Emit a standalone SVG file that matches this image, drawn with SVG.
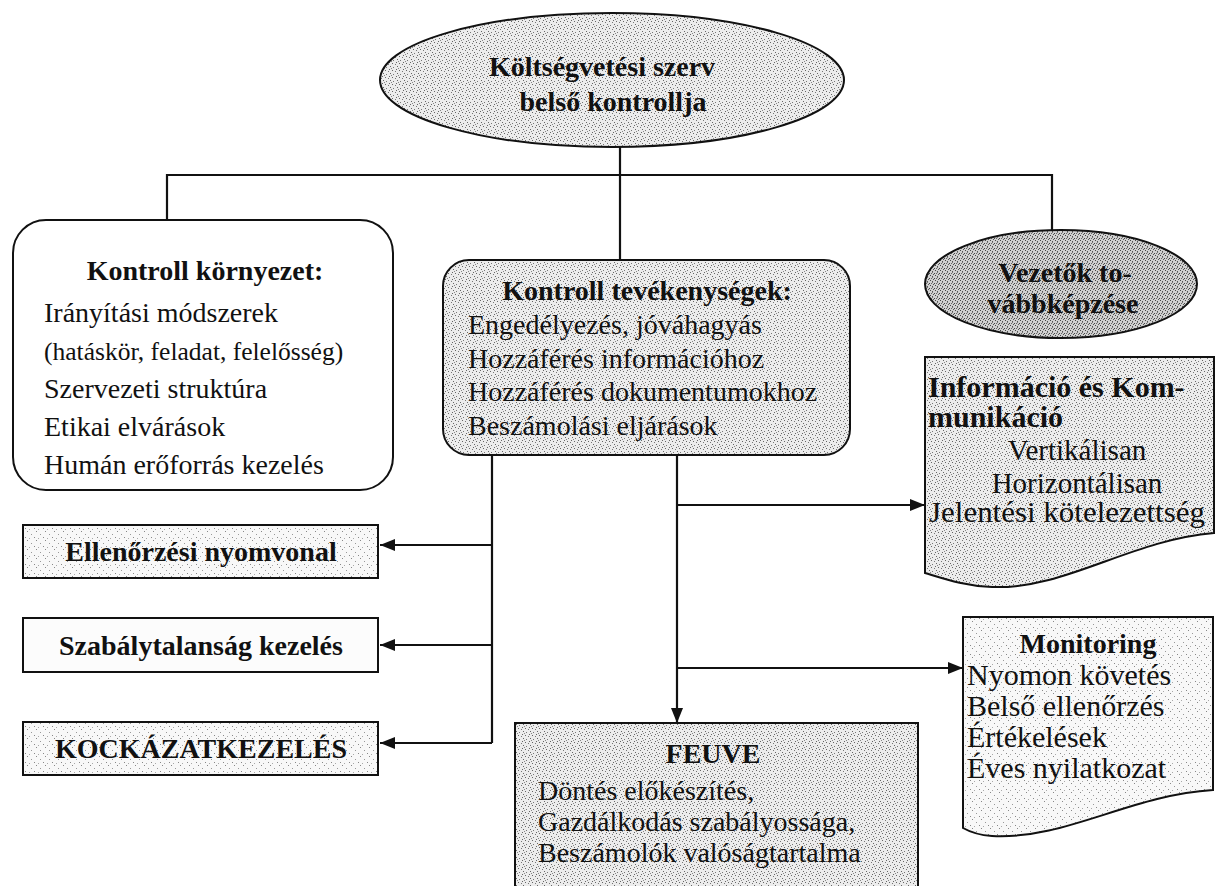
<svg xmlns="http://www.w3.org/2000/svg" width="1215" height="886" viewBox="0 0 1215 886">
<style>
text{font-family:"Liberation Serif","Times New Roman",serif;font-size:28px;fill:#111}
.b{font-weight:bold}
.m{text-anchor:middle}
.shape{stroke:#111;stroke-width:2}
.ln{fill:none;stroke:#111;stroke-width:2.2}
</style>
<defs>
<pattern id="pMed" width="7" height="7" patternUnits="userSpaceOnUse">
<rect width="7" height="7" fill="#ececec"/>
<rect x="0" y="0" width="1" height="1" fill="#666"/><rect x="3" y="1" width="1" height="1" fill="#777"/>
<rect x="5" y="3" width="1" height="1" fill="#666"/><rect x="1" y="4" width="1" height="1" fill="#777"/>
<rect x="4" y="6" width="1" height="1" fill="#666"/><rect x="6" y="5" width="1" height="1" fill="#888"/>
</pattern>
<pattern id="pDense" width="5" height="5" patternUnits="userSpaceOnUse">
<rect width="5" height="5" fill="#d0d0d0"/>
<rect x="0" y="0" width="1" height="1" fill="#444"/><rect x="2" y="1" width="1" height="1" fill="#555"/>
<rect x="4" y="3" width="1" height="1" fill="#444"/><rect x="1" y="3" width="1" height="1" fill="#666"/>
<rect x="3" y="4" width="1" height="1" fill="#555"/><rect x="2" y="2" width="1" height="1" fill="#777"/>
</pattern>
<pattern id="pLight" width="9" height="9" patternUnits="userSpaceOnUse">
<rect width="9" height="9" fill="#f8f8f8"/>
<rect x="0" y="0" width="1" height="1" fill="#888"/><rect x="4" y="3" width="1" height="1" fill="#999"/>
<rect x="7" y="6" width="1" height="1" fill="#888"/><rect x="2" y="7" width="1" height="1" fill="#aaa"/>
</pattern>
<marker id="ah" markerUnits="userSpaceOnUse" markerWidth="15" markerHeight="12" refX="15" refY="6" orient="auto">
<path d="M0,0 L15,6 L0,12 Z" fill="#111"/>
</marker>
</defs>
<rect width="1215" height="886" fill="#fff"/>

<g id="connectors">
<path class="ln" d="M620,147 V260"/>
<path class="ln" d="M167,220 V175 H1052 V230"/>
<path class="ln" d="M492,455 V743"/>
<path class="ln" d="M492,545 H380" marker-end="url(#ah)"/>
<path class="ln" d="M492,645 H380" marker-end="url(#ah)"/>
<path class="ln" d="M492,743 H380" marker-end="url(#ah)"/>
<path class="ln" d="M677,455 V723" marker-end="url(#ah)"/>
<path class="ln" d="M677,505 H925" marker-end="url(#ah)"/>
<path class="ln" d="M677,668 H963" marker-end="url(#ah)"/>
</g>

<g id="root">
<ellipse class="shape" cx="612" cy="80" rx="232" ry="67" fill="url(#pMed)"/>
<text class="b m" x="602" y="76">Költségvetési szerv</text>
<text class="b m" x="613" y="111">belső kontrollja</text>
</g>

<g id="kontroll-kornyezet">
<rect class="shape" x="13" y="220" width="380" height="270" rx="33" fill="#fff"/>
<text class="b m" x="205" y="280">Kontroll környezet:</text>
<text x="44" y="322">Irányítási módszerek</text>
<text x="44" y="360" style="font-size:25.5px">(hatáskör, feladat, felelősség)</text>
<text x="44" y="398">Szervezeti struktúra</text>
<text x="44" y="436">Etikai elvárások</text>
<text x="44" y="474">Humán erőforrás kezelés</text>
</g>

<g id="kontroll-tevekenysegek">
<rect class="shape" x="443" y="260" width="407" height="195" rx="26" fill="url(#pMed)"/>
<text class="b m" x="647" y="300">Kontroll tevékenységek:</text>
<text x="468" y="334">Engedélyezés, jóváhagyás</text>
<text x="468" y="368">Hozzáférés információhoz</text>
<text x="468" y="401">Hozzáférés dokumentumokhoz</text>
<text x="468" y="435">Beszámolási eljárások</text>
</g>

<g id="vezetok">
<ellipse class="shape" cx="1061" cy="284" rx="136" ry="54" fill="url(#pDense)"/>
<text class="b m" x="1065" y="282">Vezetők to-</text>
<text class="b m" x="1063" y="313">vábbképzése</text>
</g>

<g id="informacio">
<path class="shape" d="M925,357 H1214 V533 C1130,540 1065,590 992,587 C965,586 945,579 925,573 Z" fill="url(#pMed)"/>
<text class="b" x="928" y="397" style="font-size:30px">Információ és Kom-</text>
<text class="b" x="928" y="427" style="font-size:30px">munikáció</text>
<text class="m" x="1077" y="460" style="font-size:29px">Vertikálisan</text>
<text class="m" x="1077" y="493" style="font-size:29px">Horizontálisan</text>
<text x="929" y="522" style="font-size:29px" textLength="276" lengthAdjust="spacingAndGlyphs">Jelentési kötelezettség</text>
</g>

<g id="ellenorzesi">
<rect class="shape" x="23" y="525" width="355" height="53" fill="url(#pLight)"/>
<text class="b m" x="201" y="561">Ellenőrzési nyomvonal</text>
</g>

<g id="szabalytalansag">
<rect class="shape" x="23" y="618" width="355" height="54" fill="#fcfcfc"/>
<text class="b m" x="201" y="655">Szabálytalanság kezelés</text>
</g>

<g id="kockazat">
<rect class="shape" x="23" y="722" width="355" height="53" fill="url(#pLight)"/>
<text class="b m" x="201" y="758">KOCKÁZATKEZELÉS</text>
</g>

<g id="monitoring">
<path class="shape" d="M963,617 H1213 V790 C1130,795 1065,840 992,836 C978,835 970,832 963,828 Z" fill="url(#pLight)"/>
<text class="b m" x="1088" y="653">Monitoring</text>
<text x="967" y="685" style="font-size:30px">Nyomon követés</text>
<text x="967" y="716" style="font-size:30px">Belső ellenőrzés</text>
<text x="967" y="747" style="font-size:30px">Értékelések</text>
<text x="967" y="778" style="font-size:30px">Éves nyilatkozat</text>
</g>

<g id="feuve">
<rect class="shape" x="515" y="723" width="403" height="175" fill="url(#pMed)"/>
<text class="b m" x="713" y="763">FEUVE</text>
<text x="538" y="800">Döntés előkészítés,</text>
<text x="538" y="831">Gazdálkodás szabályossága,</text>
<text x="538" y="862">Beszámolók valóságtartalma</text>
</g>
</svg>
